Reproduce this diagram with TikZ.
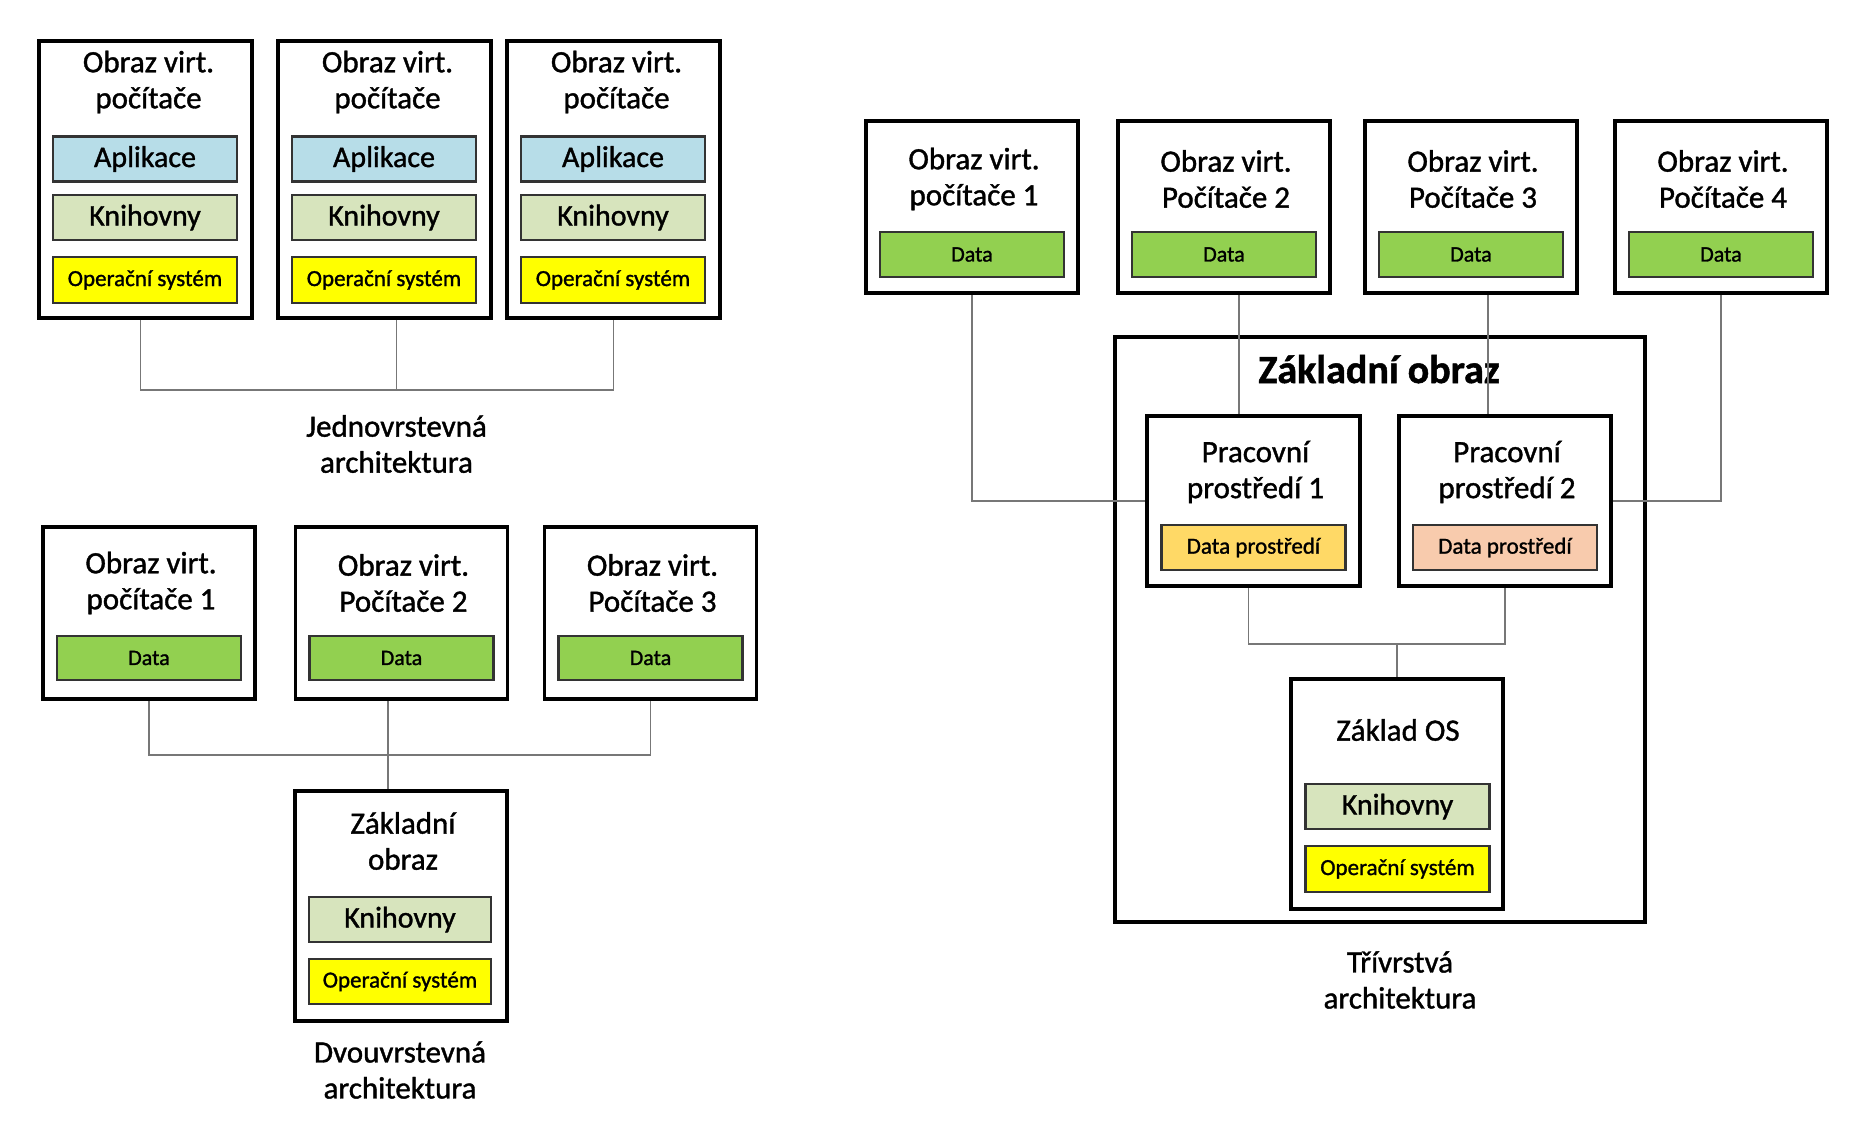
\documentclass[tikz,border=0pt]{standalone}
\usepackage{fontspec}
\setmainfont{Carlito}[RawFeature={embolden=1.2}]
\definecolor{apl}{HTML}{B7DDE8}
\definecolor{kni}{HTML}{D7E4BD}
\definecolor{ops}{HTML}{FFFF00}
\definecolor{dat}{HTML}{92D050}
\definecolor{dpa}{HTML}{FFD966}
\definecolor{dpb}{HTML}{F8CBAD}
\definecolor{lin}{HTML}{777777}
\tikzset{
  vm/.style={draw=black, line width=1.8pt, fill=white, inner sep=0pt},
  sz/.style 2 args={minimum width=#1*0.5pt, minimum height=#2*0.5pt},
  bar/.style={draw=black!80, line width=1.1pt, inner sep=0pt},
  conn/.style={draw=lin, line width=0.85pt},
  ttl/.style={align=center, font=\fontsize{15.5}{18}\selectfont, inner sep=0pt},
  bigtxt/.style={font=\fontsize{15}{18}\selectfont},
  smalltxt/.style={font=\fontsize{11.5}{14}\selectfont},
  datatxt/.style={font=\fontsize{11}{13}\selectfont},
}
\begin{document}
\begin{tikzpicture}[x=0.5pt,y=-0.5pt]
\useasboundingbox (0,0) rectangle (1849,1131);

% ---------- Section 1: single-layer ----------
\foreach \n/\cx in {1/145.5,2/384.5,3/613.5}{
  \node[vm, sz={213}{277}] (s1b\n) at (\cx,179.5) {};
  \node[ttl] (s1t\n) at (\cx+3,82) {Obraz virt.\\počítače};
  \node[bar, sz={184}{45}, fill=apl, bigtxt] (s1a\n) at (\cx-0.5,159) {Aplikace};
  \node[bar, sz={184}{45}, fill=kni, bigtxt] (s1k\n) at (\cx-0.5,217.5) {Knihovny};
  \node[bar, sz={184}{46}, fill=ops, smalltxt] (s1o\n) at (\cx-0.5,280) {Operační systém};
}
\coordinate (j1) at (396.5,390);
\draw[conn] ([xshift=-2.5pt]s1b1.south) |- (j1) -| (s1b3.south);
\draw[conn] ([xshift=6pt]s1b2.south) -- (j1);
\node[ttl] (lab1) at (396.5,444) {Jednovrstevná\\architektura};

% ---------- Section 2: two-layer ----------
\node[vm, sz={212}{172}] (s2b1) at (149,613) {};
\node[vm, sz={212}{172}] (s2b2) at (401.5,613) {};
\node[vm, sz={212}{172}] (s2b3) at (650.5,613) {};
\node[ttl] (s2t1) at (151,583) {Obraz virt.\\počítače 1};
\node[ttl] (s2t2) at (403.5,583) {Obraz virt.\\Počítače 2};
\node[ttl] (s2t3) at (652.5,583) {Obraz virt.\\Počítače 3};
\node[bar, sz={184}{44}, fill=dat, datatxt] (s2d1) at (149,658) {Data};
\node[bar, sz={184}{44}, fill=dat, datatxt] (s2d2) at (401.5,658) {Data};
\node[bar, sz={184}{44}, fill=dat, datatxt] (s2d3) at (650.5,658) {Data};
\node[vm, sz={212}{230}] (s2base) at (401,906) {};
\node[ttl] (s2bt) at (403,841) {Základní\\obraz};
\node[bar, sz={182}{45}, fill=kni, bigtxt] (s2k) at (400,919.5) {Knihovny};
\node[bar, sz={182}{45}, fill=ops, smalltxt] (s2o) at (400,981.5) {Operační systém};
\coordinate (j2) at (388,755);
\draw[conn] (s2b1.south) |- (j2) -| (s2b3.south);
\draw[conn] ([xshift=-6.75pt]s2b2.south) -- (j2) -- ([xshift=-6.5pt]s2base.north);
\node[ttl] (lab2) at (400,1070) {Dvouvrstevná\\architektura};

% ---------- Section 3: three-layer ----------
\node[vm, sz={530}{585}] (big) at (1380,629.5) {};
\node[anchor=base, inner sep=0pt, font=\fontsize{20}{22}\selectfont\bfseries] (bigt) at (1379,383) {Základní obraz};

\node[vm, sz={212}{172}] (c1) at (972,207) {};
\node[vm, sz={212}{172}] (c2) at (1224,207) {};
\node[vm, sz={212}{172}] (c3) at (1471,207) {};
\node[vm, sz={212}{172}] (c4) at (1721,207) {};
\node[ttl] (c1t) at (974,179) {Obraz virt.\\počítače 1};
\node[ttl] (c2t) at (1226,179) {Obraz virt.\\Počítače 2};
\node[ttl] (c3t) at (1473,179) {Obraz virt.\\Počítače 3};
\node[ttl] (c4t) at (1723,179) {Obraz virt.\\Počítače 4};
\node[bar, sz={184}{45}, fill=dat, datatxt] (c1d) at (972,254.5) {Data};
\node[bar, sz={184}{45}, fill=dat, datatxt] (c2d) at (1224,254.5) {Data};
\node[bar, sz={184}{45}, fill=dat, datatxt] (c3d) at (1471,254.5) {Data};
\node[bar, sz={184}{45}, fill=dat, datatxt] (c4d) at (1721,254.5) {Data};

\node[vm, sz={213}{170}] (p1) at (1253.5,501) {};
\node[vm, sz={212}{170}] (p2) at (1505,501) {};
\node[ttl] (p1t) at (1255.5,472) {Pracovní\\prostředí 1};
\node[ttl] (p2t) at (1507,472) {Pracovní\\prostředí 2};
\node[bar, sz={184}{45}, fill=dpa, smalltxt] (p1d) at (1253.5,547.5) {Data prostředí};
\node[bar, sz={184}{45}, fill=dpb, smalltxt] (p2d) at (1505,547.5) {Data prostředí};

\node[vm, sz={212}{230}] (osb) at (1397,794) {};
\node[inner sep=0pt, font=\fontsize{15.5}{18}\selectfont] (osbt) at (1398,730) {Základ OS};
\node[bar, sz={184}{45}, fill=kni, bigtxt] (osk) at (1397.5,806.5) {Knihovny};
\node[bar, sz={184}{46}, fill=ops, smalltxt] (oso) at (1397.5,869) {Operační systém};

\draw[conn] (c1.south) |- (p1.west);
\draw[conn] ([xshift=7.5pt]c2.south) -- ([xshift=7.5pt]c2.south |- p1.north);
\draw[conn] ([xshift=8.5pt]c3.south) -- ([xshift=8.5pt]c3.south |- p2.north);
\draw[conn] (c4.south) |- (p2.east);
\coordinate (j3) at (1397,644);
\draw[conn] ([xshift=-2.5pt]p1.south) |- (j3) -| (p2.south);
\draw[conn] (j3) -- (osb.north);
\node[ttl] (lab3) at (1400,980) {Třívrstvá\\architektura};
\end{tikzpicture}
\end{document}
